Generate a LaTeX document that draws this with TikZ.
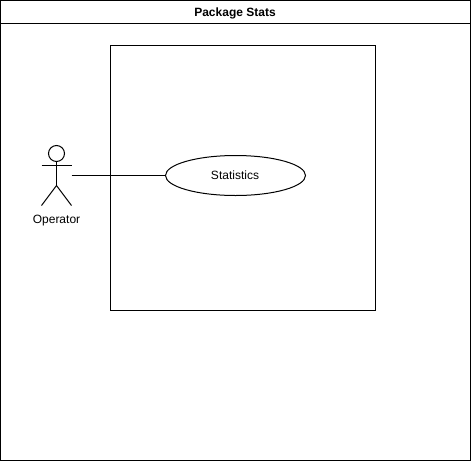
\documentclass[tikz,border=0pt]{standalone}
\usepackage{fontspec}
\setmainfont{Liberation Sans}
\usetikzlibrary{shapes.geometric}
\tikzset{px/.style={x=0.75pt,y=-0.75pt},ln/.style={draw=black,line width=0.75pt},lab/.style={font=\fontsize{9pt}{11pt}\selectfont,inner sep=0pt}}
\begin{document}
\begin{tikzpicture}[px]
\useasboundingbox (0,0) rectangle (471,461);
\fill[white] (0,0) rectangle (471,461);
\draw[ln] (0.5,0.5) rectangle (470.5,460.5);
\draw[ln] (0.5,23.5) -- (470.5,23.5);
\node[lab,font=\fontsize{9pt}{11pt}\selectfont\bfseries] (title) at (235,13) {Package Stats};
\node[ln,draw,rectangle,minimum width=198.75pt,minimum height=198.75pt,inner sep=0pt] (sys) at (243,178) {};
\node[ln,draw,ellipse,minimum width=105pt,minimum height=30pt,inner sep=0pt] (uc) at (235.5,175.5) {};
\node[lab] (uct) at (235,175) {Statistics};
\node[ln,draw,circle,minimum size=12pt,inner sep=0pt] (head) at (56.5,153.5) {};
\coordinate (hip) at (56.5,185.5);
\coordinate (armL) at (41.5,165.5);
\coordinate (armR) at (71.5,165.5);
\coordinate (footL) at (41.5,205.5);
\coordinate (footR) at (71.5,205.5);
\coordinate (link) at (71.5,175.5);
\draw[ln] (head) -- (hip);
\draw[ln] (armL) -- (armR);
\draw[ln] (footL) -- (hip) -- (footR);
\node[lab] (actor) at (56.5,221) {Operator};
\draw[ln] (link) -- (uc);
\end{tikzpicture}
\end{document}
